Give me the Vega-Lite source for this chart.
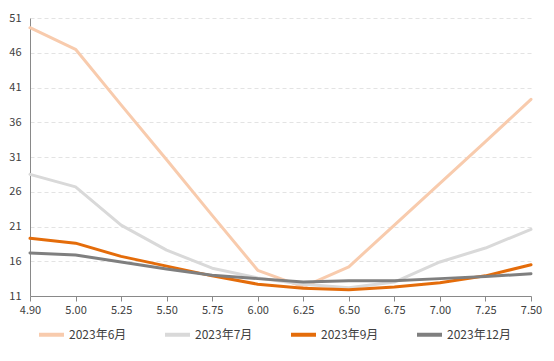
{
  "$schema": "https://vega.github.io/schema/vega-lite/v6.json",
  "width": 501,
  "height": 278,
  "autosize": "none",
  "padding": {"left": 30, "top": 18, "right": 23, "bottom": 65},
  "background": "white",
  "config": {
    "view": {"stroke": null},
    "font": "Noto Sans CJK SC",
    "axis": {"labelFont": "Noto Sans CJK SC", "labelColor": "#404040", "labelFontSize": 11}
  },
  "data": {
    "values": [
      {"x": "4.90", "s": "2023年6月", "v": 49.6},
      {"x": "5.00", "s": "2023年6月", "v": 46.5},
      {"x": "5.25", "s": "2023年6月", "v": 38.5},
      {"x": "5.50", "s": "2023年6月", "v": 30.6},
      {"x": "5.75", "s": "2023年6月", "v": 22.6},
      {"x": "6.00", "s": "2023年6月", "v": 14.7},
      {"x": "6.25", "s": "2023年6月", "v": 12.3},
      {"x": "6.50", "s": "2023年6月", "v": 15.2},
      {"x": "6.75", "s": "2023年6月", "v": 21.2},
      {"x": "7.00", "s": "2023年6月", "v": 27.2},
      {"x": "7.25", "s": "2023年6月", "v": 33.2},
      {"x": "7.50", "s": "2023年6月", "v": 39.3},
      {"x": "4.90", "s": "2023年7月", "v": 28.5},
      {"x": "5.00", "s": "2023年7月", "v": 26.7},
      {"x": "5.25", "s": "2023年7月", "v": 21.2},
      {"x": "5.50", "s": "2023年7月", "v": 17.6},
      {"x": "5.75", "s": "2023年7月", "v": 15.0},
      {"x": "6.00", "s": "2023年7月", "v": 13.6},
      {"x": "6.25", "s": "2023年7月", "v": 12.7},
      {"x": "6.50", "s": "2023年7月", "v": 12.2},
      {"x": "6.75", "s": "2023年7月", "v": 13.0},
      {"x": "7.00", "s": "2023年7月", "v": 15.9},
      {"x": "7.25", "s": "2023年7月", "v": 17.9},
      {"x": "7.50", "s": "2023年7月", "v": 20.6},
      {"x": "4.90", "s": "2023年9月", "v": 19.3},
      {"x": "5.00", "s": "2023年9月", "v": 18.6},
      {"x": "5.25", "s": "2023年9月", "v": 16.7},
      {"x": "5.50", "s": "2023年9月", "v": 15.3},
      {"x": "5.75", "s": "2023年9月", "v": 13.9},
      {"x": "6.00", "s": "2023年9月", "v": 12.7},
      {"x": "6.25", "s": "2023年9月", "v": 12.1},
      {"x": "6.50", "s": "2023年9月", "v": 11.9},
      {"x": "6.75", "s": "2023年9月", "v": 12.3},
      {"x": "7.00", "s": "2023年9月", "v": 12.9},
      {"x": "7.25", "s": "2023年9月", "v": 13.9},
      {"x": "7.50", "s": "2023年9月", "v": 15.5},
      {"x": "4.90", "s": "2023年12月", "v": 17.2},
      {"x": "5.00", "s": "2023年12月", "v": 16.9},
      {"x": "5.25", "s": "2023年12月", "v": 15.9},
      {"x": "5.50", "s": "2023年12月", "v": 14.9},
      {"x": "5.75", "s": "2023年12月", "v": 14.0},
      {"x": "6.00", "s": "2023年12月", "v": 13.5},
      {"x": "6.25", "s": "2023年12月", "v": 13.0},
      {"x": "6.50", "s": "2023年12月", "v": 13.2},
      {"x": "6.75", "s": "2023年12月", "v": 13.2},
      {"x": "7.00", "s": "2023年12月", "v": 13.5},
      {"x": "7.25", "s": "2023年12月", "v": 13.8},
      {"x": "7.50", "s": "2023年12月", "v": 14.2}
    ]
  },
  "mark": {"type": "line", "strokeWidth": 3, "strokeCap": "round", "strokeJoin": "round"},
  "encoding": {
    "x": {
      "field": "x",
      "type": "ordinal",
      "sort": null,
      "scale": {"type": "point", "padding": 0},
      "axis": {
        "title": null,
        "labelAngle": 0,
        "domainColor": "#898989",
        "tickColor": "#898989",
        "tickSize": 5,
        "labelPadding": 3,
        "grid": false
      }
    },
    "y": {
      "field": "v",
      "type": "quantitative",
      "scale": {"domain": [11, 51], "nice": false, "zero": false},
      "axis": {
        "title": null,
        "values": [11, 16, 21, 26, 31, 36, 41, 46, 51],
        "domainColor": "#898989",
        "ticks": false,
        "labelPadding": 9,
        "gridColor": "#E3E3E3",
        "gridDash": [4, 3]
      }
    },
    "color": {
      "field": "s",
      "type": "nominal",
      "sort": null,
      "scale": {
        "domain": ["2023年6月", "2023年7月", "2023年9月", "2023年12月"],
        "range": ["#F8CBAD", "#D9D9D9", "#E46C0A", "#7F7F7F"]
      },
      "legend": {
        "title": null,
        "orient": "none",
        "legendX": 7,
        "legendY": 302,
        "direction": "horizontal",
        "columns": 4,
        "gridAlign": "all",
        "columnPadding": 24,
        "symbolType": "stroke",
        "symbolSize": 625,
        "symbolStrokeWidth": 4,
        "labelFontSize": 12,
        "labelColor": "#404040",
        "labelFont": "Noto Sans CJK SC",
        "labelOffset": 3
      }
    }
  }
}
